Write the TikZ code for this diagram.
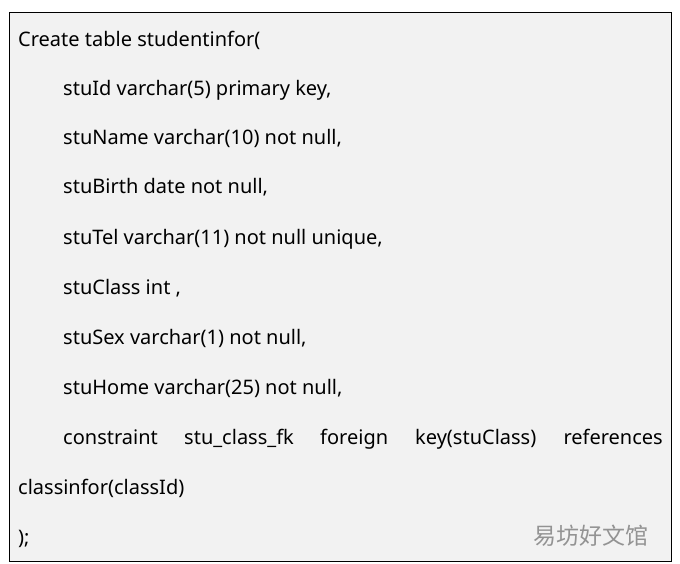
\documentclass[tikz,border=0pt]{standalone}
\usepackage{fontspec}
\setmainfont{Noto Sans}
\newfontfamily\cjk{Noto Sans CJK SC}
\begin{document}
\begin{tikzpicture}[x=1pt,y=-1pt,
  t/.style={anchor=base west,inner sep=0pt,font=\fontsize{20}{24}\selectfont}]
\useasboundingbox (0,0) rectangle (680,564);
\draw[fill={rgb,255:red,242;green,242;blue,242},line width=1pt] (9,13) rectangle (671,561);
\node[t] (l1) at (18,47) {Create table studentinfor(};
\node[t] (l2) at (63,96) {stuId varchar(5) primary key,};
\node[t] (l3) at (63,145) {stuName varchar(10) not null,};
\node[t] (l4) at (63,194) {stuBirth date not null,};
\node[t] (l5) at (63,244) {stuTel varchar(11) not null unique,};
\node[t] (l6) at (63,294) {stuClass int ,};
\node[t] (l7) at (63,344) {stuSex varchar(1) not null,};
\node[t] (l8) at (63,394) {stuHome varchar(25) not null,};
\node[t] (w1) at (63,444) {constraint};
\node[t] (w2) at (184,444) {stu\_class\_fk};
\node[t] (w3) at (320,444) {foreign};
\node[t] (w4) at (415,444) {key(stuClass)};
\node[t,anchor=base east] (w5) at (663,444) {references};
\node[t] (l10) at (18,494) {classinfor(classId)};
\node[t] (l11) at (18,544) {);};
\node[anchor=base west,inner sep=0pt,font=\cjk\fontsize{23}{26}\selectfont,text=gray!85] (wm) at (533,544) {易坊好文馆};
\end{tikzpicture}
\end{document}
